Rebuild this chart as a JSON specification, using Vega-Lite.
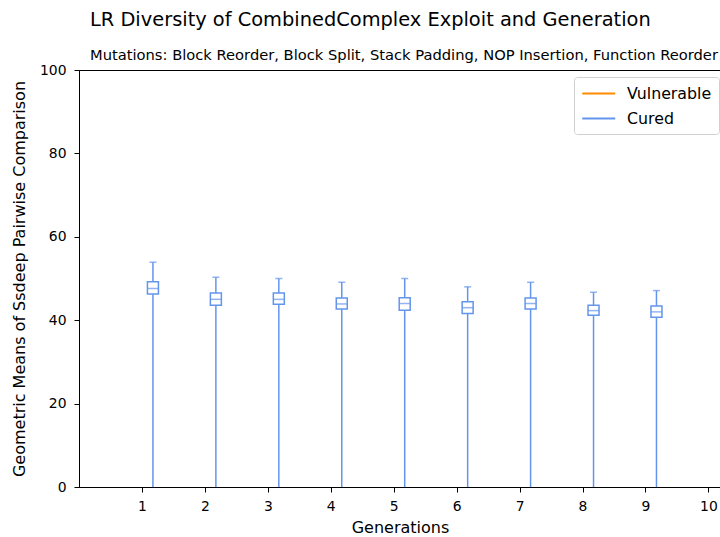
{
  "$schema": "https://vega.github.io/schema/vega-lite/v6.json",
  "autosize": "none",
  "width": 642,
  "height": 417,
  "padding": {"left": 79, "top": 70, "right": 0, "bottom": 50},
  "background": "white",
  "config": {
    "font": "DejaVu Sans",
    "view": {"stroke": "black", "strokeWidth": 1},
    "axis": {"grid": false, "domainColor": "black", "tickColor": "black", "labelColor": "black", "titleColor": "black", "labelFontSize": 13.9, "titleFontSize": 16, "titleFontWeight": "normal", "tickSize": 5, "domainWidth": 1}
  },
  "title": {
    "text": "LR Diversity of CombinedComplex Exploit and Generation",
    "subtitle": "Mutations: Block Reorder, Block Split, Stack Padding, NOP Insertion, Function Reorder",
    "anchor": "start",
    "frame": "group",
    "dx": 11,
    "fontSize": 19.4,
    "fontWeight": "normal",
    "subtitleFontSize": 14.7,
    "subtitleColor": "black",
    "color": "black",
    "offset": -1,
    "subtitlePadding": 18
  },
  "data": {
    "values": [
      {"gen": 1, "low": 0, "q1": 46.3, "median": 47.6, "q3": 49.2, "high": 53.9, "series": "Cured"},
      {"gen": 2, "low": 0, "q1": 43.6, "median": 45.0, "q3": 46.5, "high": 50.3, "series": "Cured"},
      {"gen": 3, "low": 0, "q1": 43.8, "median": 45.0, "q3": 46.5, "high": 50.0, "series": "Cured"},
      {"gen": 4, "low": 0, "q1": 42.7, "median": 43.9, "q3": 45.3, "high": 49.1, "series": "Cured"},
      {"gen": 5, "low": 0, "q1": 42.4, "median": 44.0, "q3": 45.4, "high": 50.0, "series": "Cured"},
      {"gen": 6, "low": 0, "q1": 41.6, "median": 43.0, "q3": 44.4, "high": 48.0, "series": "Cured"},
      {"gen": 7, "low": 0, "q1": 42.7, "median": 44.0, "q3": 45.3, "high": 49.1, "series": "Cured"},
      {"gen": 8, "low": 0, "q1": 41.2, "median": 42.3, "q3": 43.6, "high": 46.7, "series": "Cured"},
      {"gen": 9, "low": 0, "q1": 40.7, "median": 42.0, "q3": 43.4, "high": 47.1, "series": "Cured"}
    ]
  },
  "encoding": {
    "x": {"field": "gen", "type": "quantitative", "scale": {"domain": [0, 10.2], "nice": false, "zero": false, "padding": 0},
      "axis": {"values": [1,2,3,4,5,6,7,8,9,10], "title": "Generations", "format": "d", "labelPadding": 7, "titlePadding": 7}}
  },
  "layer": [
    {
      "mark": {"type": "rule", "xOffset": 11, "strokeWidth": 1.5},
      "encoding": {
        "y": {"field": "low", "type": "quantitative", "scale": {"domain": [0, 100], "nice": false, "padding": 0},
          "axis": {"values": [0,20,40,60,80,100], "title": "Geometric Means of Ssdeep Pairwise Comparison", "labelPadding": 8, "titlePadding": 12}},
        "y2": {"field": "high"},
        "color": {"field": "series", "type": "nominal",
          "scale": {"domain": ["Vulnerable", "Cured"], "range": ["#FF8C00", "#6495ED"]},
          "legend": {"title": null, "orient": "none", "legendX": 495, "legendY": 7, "symbolType": "M-1,0H3", "symbolSize": 272, "symbolStrokeWidth": 1.8, "symbolFillColor": "transparent", "labelFontSize": 15.8, "labelColor": "black", "fillColor": "white", "strokeColor": "#d0d0d0", "cornerRadius": 3, "padding": 7, "rowPadding": 7, "labelOffset": 27}}
      }
    },
    {
      "mark": {"type": "bar", "xOffset": 11, "size": 11, "fill": "white", "stroke": "#6495ED", "strokeWidth": 1.5},
      "encoding": {
        "y": {"field": "q1", "type": "quantitative"},
        "y2": {"field": "q3"}
      }
    },
    {
      "mark": {"type": "tick", "orient": "horizontal", "xOffset": 11, "size": 11, "thickness": 1.5, "color": "#6495ED"},
      "encoding": {"y": {"field": "median", "type": "quantitative"}}
    },
    {
      "mark": {"type": "tick", "orient": "horizontal", "xOffset": 11, "size": 7, "thickness": 1.5, "color": "#6495ED"},
      "encoding": {"y": {"field": "high", "type": "quantitative"}}
    }
  ]
}
